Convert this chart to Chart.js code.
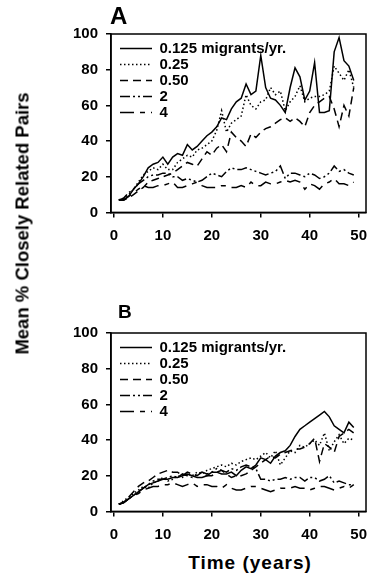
<!DOCTYPE html>
<html>
<head>
<meta charset="utf-8">
<script src="https://cdn.jsdelivr.net/npm/chart.js@4.4.1/dist/chart.umd.min.js"></script>
<style>
body { margin:0; background:#fff; width:368px; height:583px; position:relative; overflow:hidden;
       font-family:"Liberation Sans", Arial, sans-serif; font-weight:bold; color:#000; }
canvas { position:absolute; left:0; }
#chartA { top:0; }
#chartB { top:299px; }
.txt { position:absolute; white-space:nowrap; }
#ytitle { left:-128px; top:214px; width:300px; text-align:center; font-size:18.5px; line-height:19px;
          transform:rotate(-90deg); }
#xtitle { left:150px; top:553px; width:200px; text-align:center; font-size:19px; line-height:19px; letter-spacing:1px; }
#letA { left:110px; top:4px; font-size:24px; line-height:24px; }
#letB { left:118px; top:302px; font-size:19px; line-height:19px; }
</style>
</head>
<body>
<canvas id="chartA" width="368" height="250"></canvas>
<canvas id="chartB" width="368" height="250"></canvas>
<div class="txt" id="ytitle">Mean % Closely Related Pairs</div>
<div class="txt" id="xtitle">Time (years)</div>
<div class="txt" id="letA">A</div>
<div class="txt" id="letB">B</div>
<script>
// DATA
const years = [1,2,3,4,5,6,7,8,9,10,11,12,13,14,15,16,17,18,19,20,21,22,23,24,25,
               26,27,28,29,30,31,32,33,34,35,36,37,38,39,40,41,42,43,44,45,46,47,48,49];
const xTicks = [0, 10, 20, 30, 40, 50];
const yTicks = [0, 20, 40, 60, 80, 100];
const seriesLabels = ["0.125 migrants/yr.", "0.25", "0.50", "2", "4"];

// panel A
const a0125 = [7,7,9,13,16, 20,25,27,28,31, 27,31,33,32,38, 35,37,40,43,45, 48,53,52,58,62,
               64,72,66,68,88, 70,64,63,60,56, 70,81,76,63,68, 84,56,56,57,90, 98,85,82,74];
const a025  = [7,8,10,13,17, 21,23,25,24,27, 24,24,28,30,32, 31,35,36,38,40, 46,57,45,50,52,
               54,66,60,58,62, 63,70,66,68,57, 62,65,71,62,64, 65,65,66,68,82, 78,74,80,70];
const a050  = [7,7,8,10,12, 14,17,18,19,20, 21,22,24,26,28, 27,26,30,34,32, 36,38,34,45,42,
               40,37,44,42,45, 47,48,50,52,53, 51,53,51,48,56, 60,62,64,65,58, 48,60,54,70];
const a2    = [7,8,11,13,16, 18,20,21,21,22, 22,20,20,18,19, 18,17,18,20,22, 21,20,23,25,24,
               24,25,24,23,22, 21,22,23,26,19, 22,22,21,20,22, 21,19,20,22,26, 23,24,22,21];
const a4    = [7,7,9,11,13, 15,14,14,15,15, 16,17,14,14,15, 16,17,15,14,14, 14,15,15,14,14,
               15,14,17,15,15, 17,16,16,17,18, 17,18,17,13,16, 15,13,16,17,19, 16,16,15,17];

// panel B
const b0125 = [4,5,7,9,11, 13,15,16,17,18, 18,19,19,20,21, 20,19,19,20,22, 22,21,21,22,20,
               23,25,24,26,30, 29,27,31,33,34, 37,42,46,48,50, 52,54,56,53,48, 46,44,50,47];
const b025  = [4,6,8,10,12, 14,13,16,17,19, 17,18,20,19,21, 20,22,21,23,24, 25,26,25,27,26,
               28,29,30,29,31, 33,30,34,26,30, 34,33,37,36,38, 40,37,44,34,39, 43,38,41,40];
const b050  = [4,5,8,11,14, 16,17,19,21,22, 23,22,22,20,22, 21,20,22,20,20, 22,23,21,19,20,
               20,21,23,25,27, 29,31,30,32,33, 34,35,35,36,38, 41,28,38,36,33, 42,44,46,44];
const b2    = [4,5,7,9,11, 13,15,17,18,18, 19,20,19,21,20, 19,21,22,21,22, 24,23,22,24,23,
               25,26,25,24,18, 18,17,18,18,19, 18,19,19,17,19, 19,17,18,20,16, 17,16,15,15];
const b4    = [4,5,7,9,10, 12,13,14,14,15, 15,16,15,14,15, 16,14,15,15,14, 14,13,15,13,12,
               12,13,14,14,13, 12,11,12,13,13, 13,14,13,13,12, 13,14,14,13,12, 13,14,13,15];

// line styles for the five series
const dashes = [[], [1.5, 2.5], [8, 5], [10, 3, 2, 3, 2, 3], [14, 6, 5, 6]];

const FONT = "'Liberation Sans', Arial, sans-serif";

// draw the box round the plot
const framePlugin = {
    id: "frame",
    afterDatasetsDraw(chart) {
        let ctx = chart.ctx, a = chart.chartArea;
        ctx.save();
        ctx.strokeStyle = "#000";
        ctx.lineWidth = 1.5;
        ctx.strokeRect(a.left, a.top, a.right - a.left, a.bottom - a.top);
        ctx.restore();
    }
};

// put legend inside plot, top left
const legendShift = {
    id: "legendShift",
    afterLayout(chart) {
        let lg = chart.legend, a = chart.chartArea;
        if (!lg) return;
        let w = lg.width, h = lg.height;
        lg.left = a.left + 8; lg.right = lg.left + w;
        lg.top = a.top + 6; lg.bottom = lg.top + h;
    }
};

function makeDatasets(list) {
    return list.map((vals, i) => ({
        label: seriesLabels[i],
        data: years.map((x, j) => ({ x: x, y: vals[j] })),
        borderColor: "#000",
        backgroundColor: "#000",
        borderWidth: 1.5,
        borderDash: dashes[i],
        pointRadius: 0,
        pointStyle: "line",
        tension: 0,
        fill: false
    }));
}

function legendLabels(chart) {
    let items = Chart.defaults.plugins.legend.labels.generateLabels(chart);
    items.forEach(it => {
        let ds = chart.data.datasets[it.datasetIndex];
        it.lineDash = ds.borderDash;
        it.lineWidth = ds.borderWidth;
        it.strokeStyle = "#000";
    });
    return items;
}

function axisCommon() {
    return {
        grid: { display: true, drawOnChartArea: false, drawTicks: true, tickLength: 5, color: "#000", lineWidth: 1.5 },
        border: { display: true, color: "#000", width: 1.5 },
        ticks: { color: "#000", font: { family: FONT, size: 15, weight: "bold" }, autoSkip: false, maxRotation: 0 }
    };
}

function createChart(id, list) {
    let xAxis = axisCommon();
    xAxis.type = "linear";
    xAxis.min = -0.6;
    xAxis.max = 51.5;
    xAxis.ticks.padding = 9;
    xAxis.afterBuildTicks = s => { s.ticks = xTicks.map(v => ({ value: v })); };
    xAxis.afterFit = s => { s.height = 37.6; s.paddingLeft = 0; s.paddingRight = 0; };

    let yAxis = axisCommon();
    yAxis.min = 0;
    yAxis.max = 100;
    yAxis.ticks.padding = 8;
    yAxis.afterBuildTicks = s => { s.ticks = yTicks.map(v => ({ value: v })); };
    yAxis.afterFit = s => { s.width = 111; s.paddingTop = 0; s.paddingBottom = 0; };

    return new Chart(document.getElementById(id), {
        type: "line",
        data: { datasets: makeDatasets(list) },
        options: {
            responsive: false,
            animation: false,
            layout: { padding: { top: 34, right: 2, left: 0, bottom: 0 } },
            plugins: {
                legend: {
                    position: "chartArea",
                    align: "start",
                    labels: {
                        usePointStyle: true,
                        pointStyleWidth: 32,
                        padding: 1,
                        color: "#000",
                        font: { family: FONT, size: 15, weight: "bold" },
                        generateLabels: legendLabels
                    }
                },
                tooltip: { enabled: false }
            },
            scales: { x: xAxis, y: yAxis }
        },
        plugins: [framePlugin, legendShift]
    });
}

createChart("chartA", [a0125, a025, a050, a2, a4]);
createChart("chartB", [b0125, b025, b050, b2, b4]);
</script>
</body>
</html>
